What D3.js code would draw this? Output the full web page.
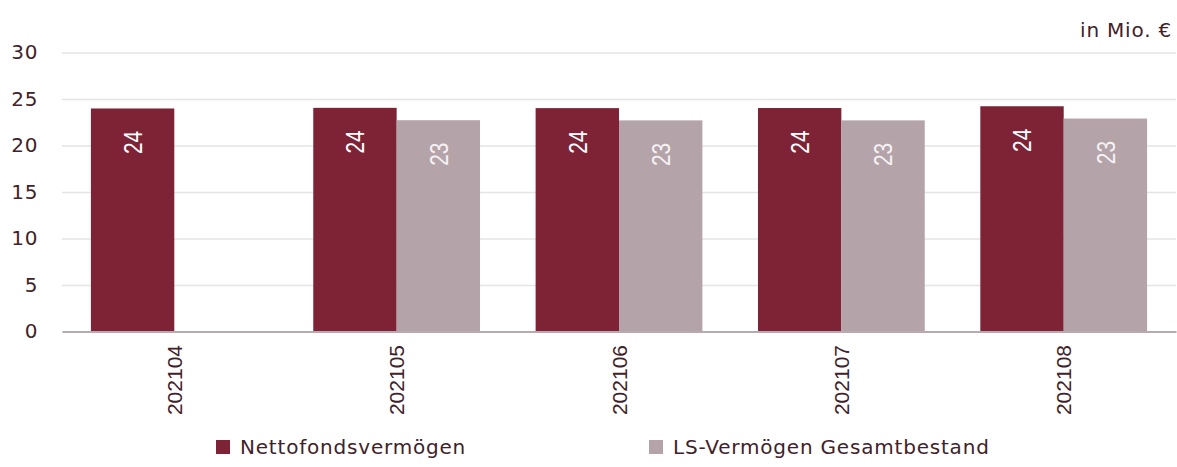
<!DOCTYPE html>
<html>
<head>
<meta charset="utf-8">
<script src="https://cdn.jsdelivr.net/npm/d3@7"></script>
<style>
  body { margin: 0; background: #fff; }
  svg { display: block; }
</style>
</head>
<body>
<svg id="chart" width="1177" height="467"></svg>
<script>
// Daten
const kategorien = ["202104", "202105", "202106", "202107", "202108"];
const netto = [23.98, 24.05, 24.02, 24.03, 24.22];
const lsVermoegen = [null, 22.72, 22.70, 22.70, 22.90];
const yTicks = [0, 5, 10, 15, 20, 25, 30];
const serienNamen = ["Nettofondsvermögen", "LS-Vermögen Gesamtbestand"];
const einheit = "in Mio. €";

const farben = ["#7e2336", "#b4a4a9"];
const textFarbe = "#40222a";

const daten = kategorien.map((k, i) => ({
  kat: k,
  werte: [
    { serie: 0, wert: netto[i] },
    { serie: 1, wert: lsVermoegen[i] }
  ].filter(d => d.wert != null)
}));

const svg = d3.select("#chart");
const plotLinks = 62, plotRechts = 1176, plotOben = 52.5, plotUnten = 331.5;

const x0 = d3.scaleBand()
  .domain(kategorien)
  .range([plotLinks, plotRechts])
  .paddingInner(0.25)
  .paddingOuter(0.13);

const x1 = d3.scaleBand()
  .domain([0, 1])
  .range([0, x0.bandwidth()]);

const y = d3.scaleLinear()
  .domain([0, 30])
  .range([plotUnten, plotOben]);

// Gitterlinien + Y-Achse
const yAchse = svg.append("g")
  .attr("transform", `translate(${plotLinks},0)`)
  .call(d3.axisLeft(y).tickValues(yTicks).tickSize(-(plotRechts - plotLinks)).tickPadding(24));
yAchse.select(".domain").remove();
yAchse.selectAll(".tick line").attr("stroke", "#e6e4e5").attr("stroke-width", 1.5);
yAchse.selectAll(".tick text")
  .attr("fill", textFarbe)
  .style("font-family", "'DejaVu Sans', sans-serif")
  .style("font-size", "20px")
  .style("letter-spacing", "0.6px");

// Balken
const gruppen = svg.selectAll("g.gruppe")
  .data(daten)
  .enter().append("g")
    .attr("class", "gruppe")
    .attr("transform", d => `translate(${x0(d.kat)},0)`);

gruppen.selectAll("rect")
  .data(d => d.werte)
  .enter().append("rect")
    .attr("x", d => x1(d.serie))
    .attr("y", d => y(d.wert))
    .attr("width", x1.bandwidth())
    .attr("height", d => y(0) - y(d.wert))
    .attr("fill", d => farben[d.serie]);

// Werte in den Balken (schmale Schrift)
gruppen.selectAll("text.wert")
  .data(d => d.werte)
  .enter().append("text")
    .attr("class", "wert")
    .attr("transform", d => `translate(${x1(d.serie) + x1.bandwidth() / 2},${y(d.wert) + 22.5}) rotate(-90) scale(0.8,1)`)
    .attr("dy", "0.36em")
    .attr("text-anchor", "end")
    .attr("fill", d => d.serie === 0 ? "#ffffff" : "#f6f2f4")
    .style("font-family", "'Liberation Sans', sans-serif")
    .style("font-size", "26px")
    .text(d => d3.format(".0f")(d.wert));

// X-Achse (Grundlinie)
const xAchse = svg.append("g")
  .attr("transform", `translate(0,${plotUnten})`)
  .call(d3.axisBottom(x0).tickSize(0).tickSizeOuter(0));
xAchse.select(".domain").attr("stroke", "#b9aab0").attr("stroke-width", 2);
xAchse.selectAll(".tick text")
  .attr("transform", "rotate(-90)")
  .attr("x", -13.5)
  .attr("y", 0)
  .attr("dy", "0.36em")
  .attr("text-anchor", "end")
  .attr("fill", textFarbe)
  .style("font-family", "'Liberation Sans', sans-serif")
  .style("font-size", "21px");

// Einheit
svg.append("text")
  .attr("x", 1172)
  .attr("y", 36.5)
  .attr("text-anchor", "end")
  .attr("fill", textFarbe)
  .style("font-family", "'DejaVu Sans', sans-serif")
  .style("font-size", "20px")
  .style("letter-spacing", "0.8px")
  .text(einheit);

// Legende
const legendeX = [216, 649];
const legende = svg.selectAll("g.legende")
  .data(serienNamen)
  .enter().append("g")
    .attr("class", "legende")
    .attr("transform", (d, i) => `translate(${legendeX[i]},440)`);

legende.append("rect")
  .attr("width", 14)
  .attr("height", 14)
  .attr("fill", (d, i) => farben[i]);

legende.append("text")
  .attr("x", 24)
  .attr("y", 14)
  .attr("fill", textFarbe)
  .style("font-family", "'DejaVu Sans', sans-serif")
  .style("font-size", "20px")
  .style("letter-spacing", "0.8px")
  .text(d => d);
</script>
</body>
</html>
